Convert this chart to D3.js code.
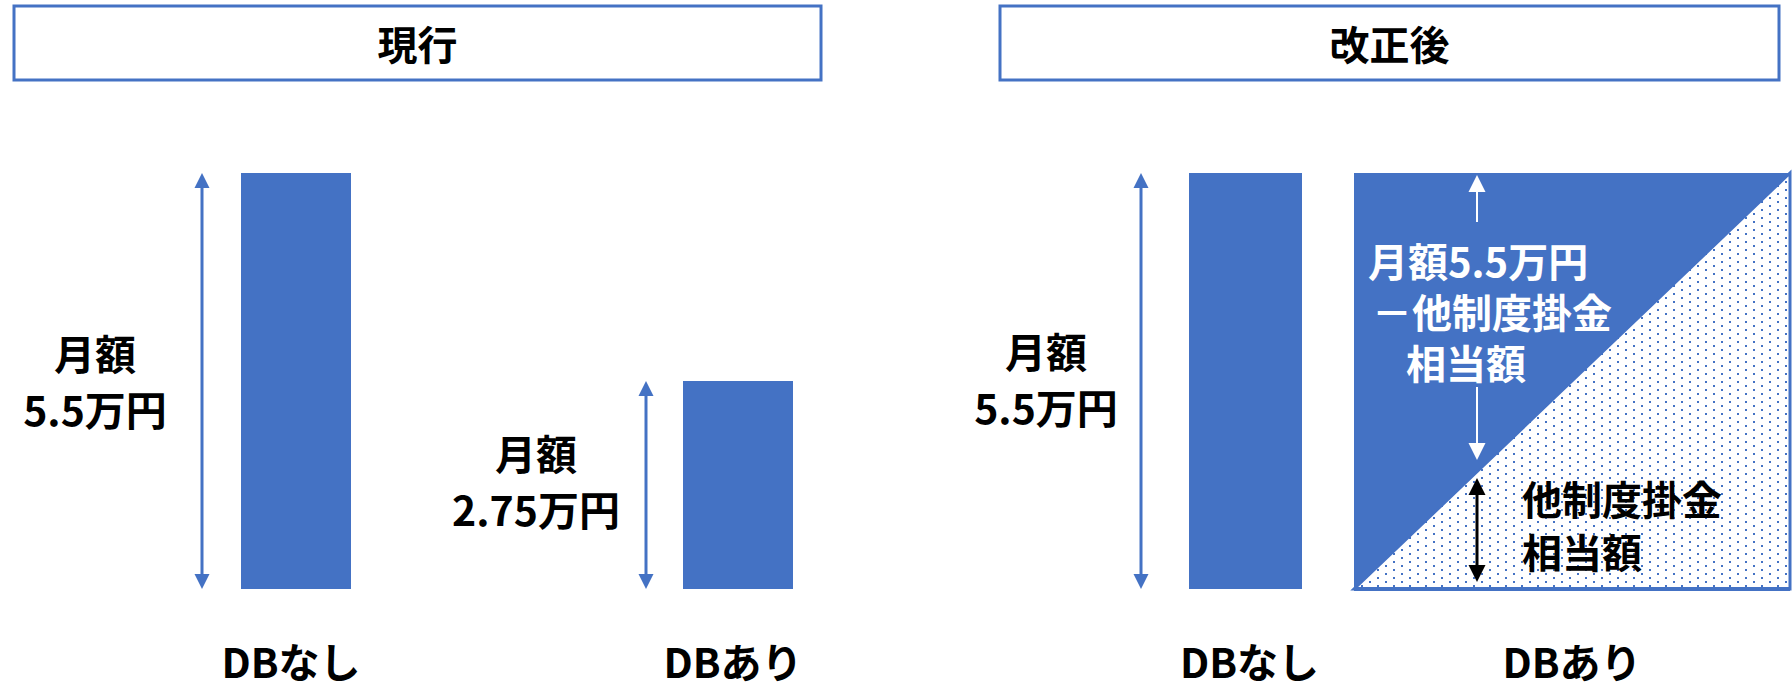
<!DOCTYPE html>
<html>
<head>
<meta charset="utf-8">
<script src="https://cdn.jsdelivr.net/npm/d3@7"></script>
<style>
  body { margin: 0; background: #fff; }
  text { font-family: "Noto Sans CJK JP", "Noto Sans", sans-serif; font-weight: bold; }
</style>
</head>
<body>
<div id="chart"></div>
<script>
// values
const panelTitles = ["現行", "改正後"];
const categories = ["DBなし", "DBあり"];
const currentValues = [5.5, 2.75];
const revisedValues = [5.5, 5.5];
const currentLabels = [["月額", "5.5万円"], ["月額", "2.75万円"]];
const revisedLabels = [["月額", "5.5万円"], null];
const diffLabel = ["月額5.5万円", "－他制度掛金", "相当額"];
const otherLabel = ["他制度掛金", "相当額"];

const W = 1792, H = 691;
const blue = "#4472C4";

const svg = d3.select("#chart").append("svg")
    .attr("width", W).attr("height", H)
    .attr("viewBox", [0, 0, W, H]);

// dotted fill for the lower triangle
const pat = svg.append("defs").append("pattern")
    .attr("id", "dots")
    .attr("patternUnits", "userSpaceOnUse")
    .attr("width", 16).attr("height", 8);
pat.append("rect").attr("width", 16).attr("height", 8).attr("fill", "#fff");
pat.append("rect").attr("x", 1).attr("y", 1).attr("width", 2).attr("height", 2).attr("fill", blue);
pat.append("rect").attr("x", 9).attr("y", 5).attr("width", 2).attr("height", 2).attr("fill", blue);

const y = d3.scaleLinear().domain([0, 5.5]).range([589, 173]);

// x scales, one per panel
const xLeft = d3.scaleBand().domain(categories).range([241, 793]).paddingInner(332 / 442);
const xRight = d3.scaleOrdinal().domain(categories).range([[1189, 1302], [1354, 1790]]);

// title boxes
const titleBoxes = [[14, 821], [1000, 1779]];
panelTitles.forEach((t, i) => {
    const [x0, x1] = titleBoxes[i];
    svg.append("rect")
        .attr("x", x0).attr("y", 6)
        .attr("width", x1 - x0).attr("height", 74)
        .attr("fill", "#fff").attr("stroke", blue).attr("stroke-width", 3);
    svg.append("text")
        .attr("x", (x0 + x1) / 2).attr("y", 43)
        .attr("text-anchor", "middle").attr("dominant-baseline", "central")
        .attr("font-size", 40).attr("fill", "#000")
        .text(t);
});

function arrow(x, v0, v1, color, lw, hw, hh) {
    const ya = y(v1), yb = y(v0);
    svg.append("line")
        .attr("x1", x).attr("x2", x)
        .attr("y1", ya + hh - 1).attr("y2", yb - hh + 1)
        .attr("stroke", color).attr("stroke-width", lw);
    svg.append("path")
        .attr("d", `M${x},${ya}L${x - hw / 2},${ya + hh}L${x + hw / 2},${ya + hh}Z`)
        .attr("fill", color);
    svg.append("path")
        .attr("d", `M${x},${yb}L${x - hw / 2},${yb - hh}L${x + hw / 2},${yb - hh}Z`)
        .attr("fill", color);
}

function arrowPix(x, ya, yb, color, lw, hw, hh, up, down) {
    svg.append("line")
        .attr("x1", x).attr("x2", x)
        .attr("y1", up ? ya + hh - 1 : ya).attr("y2", down ? yb - hh + 1 : yb)
        .attr("stroke", color).attr("stroke-width", lw);
    if (up) svg.append("path")
        .attr("d", `M${x},${ya}L${x - hw / 2},${ya + hh}L${x + hw / 2},${ya + hh}Z`)
        .attr("fill", color);
    if (down) svg.append("path")
        .attr("d", `M${x},${yb}L${x - hw / 2},${yb - hh}L${x + hw / 2},${yb - hh}Z`)
        .attr("fill", color);
}

function label(lines, cx, cy, gap, color, anchor, size) {
    const t = svg.append("text")
        .attr("text-anchor", anchor || "middle")
        .attr("font-size", size || 41).attr("fill", color);
    lines.forEach((s, i) => {
        t.append("tspan")
            .attr("x", Array.isArray(cx) ? cx[i] : cx)
            .attr("y", cy + i * gap)
            .attr("dominant-baseline", "central")
            .text(s);
    });
}

// 現行 panel
svg.append("g").selectAll("rect")
    .data(currentValues)
    .join("rect")
    .attr("x", (d, i) => xLeft(categories[i]))
    .attr("y", d => y(d))
    .attr("width", xLeft.bandwidth())
    .attr("height", d => y(0) - y(d))
    .attr("fill", blue);

const leftArrowX = [202, 646];
const leftLabelX = [95, 536];
currentValues.forEach((v, i) => {
    arrow(leftArrowX[i], 0, v, blue, 3, 15, 15);
    const top = y(v), mid = (y(0) + top) / 2;
    label(currentLabels[i], leftLabelX[i], mid - 29 + (i ? -4 : 0), 56, "#000");
});

categories.forEach((c, i) => {
    label([c], xLeft(c) + xLeft.bandwidth() / 2 - 5, 660, 0, "#000", "middle", 41);
});

// 改正後 panel
const [bx0, bx1] = xRight("DBなし");
svg.append("rect")
    .attr("x", bx0).attr("y", y(revisedValues[0]))
    .attr("width", bx1 - bx0).attr("height", y(0) - y(revisedValues[0]))
    .attr("fill", blue);
arrow(1141, 0, revisedValues[0], blue, 3, 15, 15);
label(revisedLabels[0], 1046, 350, 56, "#000");

const [sx0, sx1] = xRight("DBあり");
const sTop = y(revisedValues[1]), sBot = y(0);
svg.append("path")
    .attr("d", `M${sx0},${sBot}L${sx1},${sBot}L${sx1},${sTop}Z`)
    .attr("fill", "url(#dots)")
    .attr("stroke", blue).attr("stroke-width", 3);
svg.append("path")
    .attr("d", `M${sx0},${sTop}L${sx1},${sTop}L${sx0},${sBot}Z`)
    .attr("fill", blue);
svg.append("line")
    .attr("x1", sx0).attr("x2", sx1).attr("y1", sBot).attr("y2", sBot)
    .attr("stroke", blue).attr("stroke-width", 4);

// white arrow and text in blue triangle
arrowPix(1477, 175, 222, "#fff", 2, 17, 17, true, false);
arrowPix(1477, 387, 460, "#fff", 2, 17, 17, false, true);
label(diffLabel, [1368, 1372, 1406], 260, 51, "#fff", "start", 40);

// black arrow and text in dotted triangle
arrowPix(1477, 478, 582, "#000", 3, 17, 17, true, true);
label(otherLabel, 1522, 498, 53, "#000", "start", 40);

categories.forEach((c, i) => {
    const [a, b] = xRight(c);
    label([c], (a + b) / 2 + (i ? 0 : 4), 660, 0, "#000", "middle", 41);
});
</script>
</body>
</html>
